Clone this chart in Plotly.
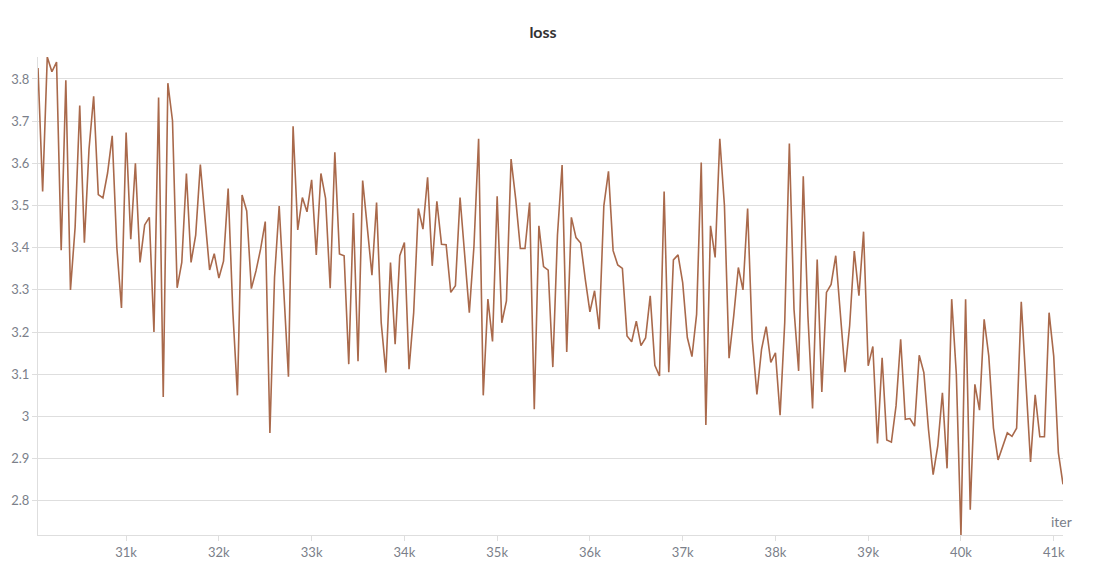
import plotly.graph_objects as go

# iteration steps (logged every 50 iters)
iters = list(range(30050, 41101, 50))

loss = [
    3.826, 3.533, 3.852, 3.817, 3.840, 3.394, 3.797, 3.300, 3.448, 3.737,
    3.412, 3.634, 3.759, 3.526, 3.518, 3.577, 3.665, 3.40, 3.257, 3.673,
    3.420, 3.600, 3.365, 3.454, 3.472, 3.200, 3.756, 3.046, 3.790, 3.701,
    3.305, 3.365, 3.576, 3.365, 3.430, 3.597,
    3.47, 3.347, 3.386, 3.328, 3.368, 3.540, 3.25, 3.050, 3.525, 3.487,
    3.303, 3.345, 3.397, 3.462, 2.961, 3.33, 3.499, 3.28, 3.094, 3.688,
    3.442, 3.519, 3.485, 3.561, 3.383, 3.576, 3.517, 3.304, 3.626, 3.385,
    3.381, 3.124, 3.482, 3.131, 3.559, 3.448, 3.335, 3.507,
    3.222, 3.104, 3.365, 3.171, 3.381, 3.412, 3.112, 3.246, 3.493, 3.444,
    3.567, 3.357, 3.510, 3.408, 3.407, 3.294, 3.310, 3.519, 3.381, 3.246,
    3.404, 3.658, 3.050, 3.278, 3.178, 3.522, 3.222, 3.274, 3.610, 3.515,
    3.398, 3.398, 3.507, 3.017, 3.452, 3.355, 3.347,
    3.117, 3.430, 3.596, 3.153, 3.472, 3.424, 3.411, 3.325, 3.248, 3.298,
    3.207, 3.499, 3.581, 3.393, 3.359, 3.351, 3.191, 3.177, 3.226, 3.168,
    3.186, 3.286, 3.121, 3.096, 3.533, 3.105, 3.371, 3.383, 3.317, 3.187,
    3.142, 3.242, 3.602, 2.980, 3.452, 3.377,
    3.658, 3.50, 3.138, 3.238, 3.353, 3.300, 3.493, 3.183, 3.052, 3.159,
    3.213, 3.128, 3.151, 3.003, 3.222, 3.647, 3.254, 3.108, 3.569, 3.238,
    3.019, 3.372, 3.058, 3.294, 3.313, 3.381, 3.238, 3.105, 3.215, 3.392,
    3.286, 3.438, 3.120, 3.166, 2.936, 3.139,
    2.944, 2.939, 3.025, 3.183, 2.993, 2.995, 2.977, 3.145, 3.104, 2.969,
    2.862, 2.930, 3.056, 2.877, 3.278, 3.100, 2.719, 3.278, 2.779, 3.076,
    3.015, 3.230, 3.143, 2.973, 2.897, 2.930, 2.961, 2.953, 2.972, 3.272,
    3.080, 2.892, 3.051, 2.952, 2.952, 3.246, 3.143, 2.914, 2.839,
]

x_tickvals = [31000, 32000, 33000, 34000, 35000, 36000, 37000, 38000, 39000, 40000, 41000]
x_ticktext = ["31k", "32k", "33k", "34k", "35k", "36k", "37k", "38k", "39k", "40k", "41k"]
y_tickvals = [2.8, 2.9, 3.0, 3.1, 3.2, 3.3, 3.4, 3.5, 3.6, 3.7, 3.8]
y_ticktext = ["2.8", "2.9", "3", "3.1", "3.2", "3.3", "3.4", "3.5", "3.6", "3.7", "3.8"]

grid = "#dedede"
font_family = "Lato, 'Noto Sans', sans-serif"
tick_font = dict(family=font_family, size=13, color="#7b7f8a")

fig = go.Figure()
fig.add_trace(go.Scatter(x=iters, y=loss, mode="lines",
                         line=dict(color="#a9694b", width=1.6),
                         name="loss", showlegend=False))

# page body has an 8px default margin, so the figure is 8px smaller each way
W, H = 1099, 573
fig.update_layout(
    width=W, height=H,
    margin=dict(l=30, r=44, t=49, b=46),
    paper_bgcolor="white", plot_bgcolor="white",
    title=dict(text="<b>loss</b>", x=535 / W, xanchor="center", y=1 - 24 / H, yanchor="middle",
               font=dict(family=font_family, size=16, color="#333333")),
    xaxis=dict(range=[iters[0], iters[-1]], tickvals=x_tickvals, ticktext=x_ticktext,
               showgrid=False, zeroline=False, showline=True, linecolor=grid, linewidth=1,
               ticks="outside", ticklen=5, tickcolor=grid, tickfont=tick_font,
               automargin=False),
    yaxis=dict(range=[2.719, 3.852], tickvals=y_tickvals, ticktext=y_ticktext,
               showgrid=True, gridcolor=grid, gridwidth=1, zeroline=False,
               showline=True, linecolor=grid, linewidth=1,
               ticks="outside", ticklen=5, tickcolor=grid, tickfont=tick_font,
               automargin=False),
    annotations=[dict(text="iter", xref="paper", yref="paper", x=1, y=0,
                      xanchor="center", yanchor="middle", xshift=-2, yshift=14,
                      showarrow=False, font=dict(family=font_family, size=14, color="#7b7f8a"))],
)

fig.write_html("out.html")
